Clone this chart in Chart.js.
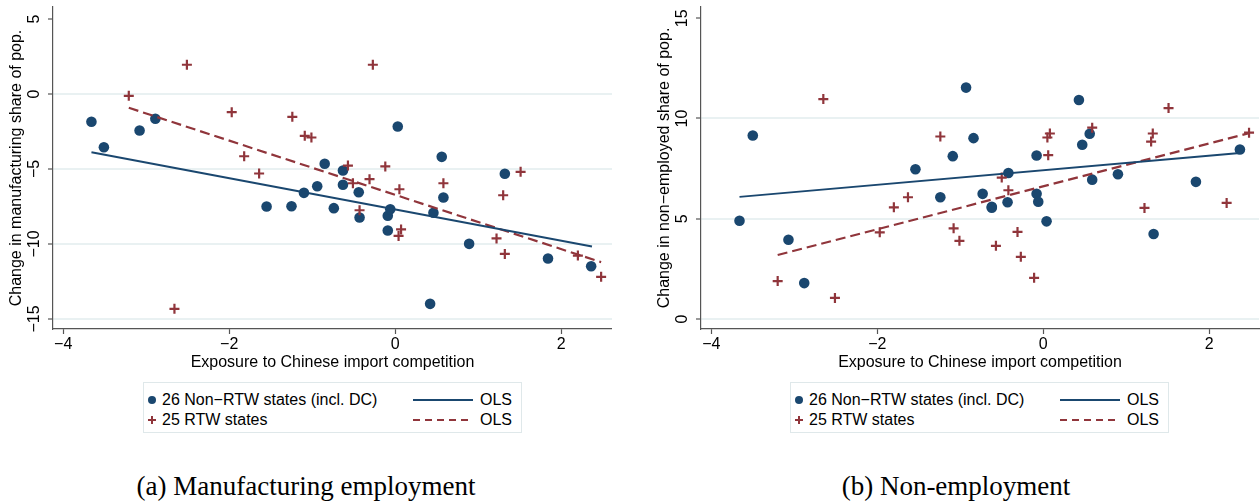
<!DOCTYPE html>
<html>
<head>
<meta charset="utf-8">
<script src="https://cdn.jsdelivr.net/npm/chart.js@4.4.1/dist/chart.umd.min.js"></script>
<style>
  body { margin: 0; width: 1260px; height: 504px; background: #fff; position: relative; overflow: hidden;
         font-family: "Liberation Sans", Arial, sans-serif; }
  canvas.panel { position: absolute; top: 0; }
  .legend { position: absolute; top: 382px; width: 379px; height: 51px; box-sizing: border-box;
            border: 1px solid #dfe8ea; font-size: 16px; color: #000; }
  .legend .item { position: absolute; height: 20px; line-height: 20px; white-space: nowrap; }
  .legend svg { position: absolute; }
  .caption { position: absolute; top: 471px; font-family: "Liberation Serif", serif; font-size: 27px;
             line-height: 30px; white-space: nowrap; transform: translateX(-50%); color: #000; }
</style>
</head>
<body>
<canvas id="mfgChart" class="panel" width="612" height="375" style="left:0px"></canvas>
<canvas id="nonEmpChart" class="panel" width="612" height="375" style="left:648px"></canvas>
<div id="legendA" class="legend" style="left:143px"></div>
<div id="legendB" class="legend" style="left:790px"></div>
<div class="caption" style="left:306px">(a) Manufacturing employment</div>
<div class="caption" style="left:956px">(b) Non-employment</div>
<script>
// tick labels
var xTicks = [-4, -2, 0, 2];
var mfgTicks = [-15, -10, -5, 0, 5];
var nonEmpTicks = [0, 5, 10, 15];

// (a) manufacturing share, non-RTW states
var mfgNonRtwX = [-3.66, -3.51, -3.08, -2.89, -1.55, -1.25, -1.10, -0.94, -0.85, -0.74, -0.63, -0.63, -0.44,
                  -0.43, -0.09, -0.09, -0.06, 0.03, 0.42, 0.46, 0.56, 0.58, 0.89, 1.32, 1.84, 2.36];
var mfgNonRtwY = [-1.85, -3.55, -2.43, -1.65, -7.50, -7.48, -6.59, -6.15, -4.65, -7.61, -5.10, -6.05, -6.55,
                  -8.23, -8.12, -9.10, -7.68, -2.17, -13.99, -7.92, -4.19, -6.90, -9.99, -5.32, -10.97, -11.48];
// (a) manufacturing share, RTW states
var mfgRtwX = [-3.21, -2.66, -2.51, -1.97, -1.82, -1.64, -1.24, -1.09, -1.01, -0.57, -0.51, -0.43, -0.31,
               -0.27, -0.12, 0.04, 0.05, 0.07, 0.58, 1.22, 1.30, 1.32, 1.51, 2.20, 2.48];
var mfgRtwY = [-0.12, -14.32, 1.95, -1.21, -4.15, -5.30, -1.52, -2.79, -2.90, -4.77, -5.95, -7.75, -5.68,
               1.95, -4.83, -9.46, -6.35, -9.03, -5.95, -9.63, -6.75, -10.66, -5.19, -10.77, -12.19];
// (a) OLS end points
var mfgOlsNonRtwX = [-3.66, 2.37];
var mfgOlsNonRtwY = [-3.88, -10.17];
var mfgOlsRtwX = [-3.21, 2.48];
var mfgOlsRtwY = [-0.92, -11.21];

// (b) non-employment share, non-RTW states
var nonEmpNonRtwX = [-3.66, -3.50, -3.07, -2.88, -1.54, -1.24, -1.09, -0.93, -0.84, -0.73, -0.62, -0.62, -0.43,
                     -0.42, -0.08, -0.08, -0.06, 0.04, 0.43, 0.47, 0.56, 0.59, 0.90, 1.33, 1.84, 2.37];
var nonEmpNonRtwY = [4.90, 9.15, 3.95, 1.79, 7.47, 6.07, 8.12, 11.54, 9.02, 6.24, 5.60, 5.55, 5.82,
                     7.28, 8.15, 6.24, 5.85, 4.87, 10.92, 8.69, 9.24, 6.95, 7.22, 4.24, 6.84, 8.45];
// (b) non-employment share, RTW states
var nonEmpRtwX = [-3.20, -2.65, -2.51, -1.97, -1.80, -1.63, -1.24, -1.08, -1.01, -0.57, -0.50, -0.42, -0.31,
                  -0.27, -0.11, 0.05, 0.06, 0.08, 0.59, 1.22, 1.30, 1.32, 1.51, 2.21, 2.48];
var nonEmpRtwY = [1.89, 10.97, 1.05, 4.32, 5.57, 6.07, 9.10, 4.52, 3.90, 3.65, 7.05, 6.42, 4.34,
                  3.10, 2.05, 9.05, 8.17, 9.25, 9.54, 5.54, 8.85, 9.25, 10.52, 5.79, 9.29];
// (b) OLS end points
var nonEmpOlsNonRtwX = [-3.66, 2.37];
var nonEmpOlsNonRtwY = [6.09, 8.28];
var nonEmpOlsRtwX = [-3.20, 2.48];
var nonEmpOlsRtwY = [3.19, 9.27];

var legendLabels = ['26 Non\u2212RTW states (incl. DC)', '25 RTW states', 'OLS', 'OLS'];

var navy = '#1a476f';
var maroon = '#90353b';
var axisColor = '#555555';
var gridColor = '#e9f1f2';
var fontFamily = '"Liberation Sans", Arial, sans-serif';

function pts(xs, ys) {
    return xs.map(function (x, i) { return { x: x, y: ys[i] }; });
}

function minus(v) {
    return String(v).replace('-', '\u2212');
}

// y tick labels are drawn turned by 90 degrees, as in the original
var rotatedYLabels = {
    id: 'rotatedYLabels',
    afterDraw: function (chart) {
        var scale = chart.scales.y;
        var ctx = chart.ctx;
        ctx.save();
        ctx.fillStyle = '#000';
        ctx.font = '16px ' + fontFamily;
        ctx.textAlign = 'center';
        ctx.textBaseline = 'middle';
        scale.ticks.forEach(function (t) {
            var py = scale.getPixelForValue(t.value);
            ctx.save();
            ctx.translate(35, py);
            ctx.rotate(-Math.PI / 2);
            ctx.fillText(minus(t.value), 0, 0);
            ctx.restore();
        });
        ctx.restore();
    }
};

function makeChart(id, cfg) {
    var topTick = cfg.yTicks[cfg.yTicks.length - 1];
    return new Chart(document.getElementById(id), {
        type: 'scatter',
        data: {
            datasets: [
                { label: legendLabels[0], data: pts(cfg.nonX, cfg.nonY), pointStyle: 'circle', pointRadius: 5.3,
                  backgroundColor: navy, borderWidth: 0, order: 2 },
                { label: legendLabels[1], data: pts(cfg.rtwX, cfg.rtwY), pointStyle: 'cross', pointRadius: 5,
                  borderColor: maroon, backgroundColor: maroon, pointBorderWidth: 2.2, order: 1 },
                { label: legendLabels[2], data: pts(cfg.olsNonX, cfg.olsNonY), showLine: true, pointRadius: 0,
                  borderColor: navy, borderWidth: 2, order: 0 },
                { label: legendLabels[3], data: pts(cfg.olsRtwX, cfg.olsRtwY), showLine: true, pointRadius: 0,
                  borderColor: maroon, borderWidth: 2.2, borderDash: [10, 5], order: 0 }
            ]
        },
        options: {
            responsive: false,
            animation: false,
            layout: { autoPadding: false, padding: { top: 7, right: cfg.padRight, left: 0, bottom: 0 } },
            plugins: { legend: { display: false }, tooltip: { enabled: false } },
            scales: {
                x: {
                    type: 'linear',
                    min: cfg.xMin, max: cfg.xMax,
                    afterBuildTicks: function (s) { s.ticks = xTicks.map(function (v) { return { value: v }; }); },
                    afterFit: function (s) { s.height = 46; },
                    grid: { drawOnChartArea: false, drawTicks: true, tickLength: 5, tickColor: axisColor, tickWidth: 1.2 },
                    border: { color: axisColor, width: 1.2 },
                    ticks: { color: '#000', font: { family: fontFamily, size: 16 }, padding: 1, maxRotation: 0,
                             callback: function (v) { return minus(v); } },
                    title: { display: true, text: 'Exposure to Chinese import competition', color: '#000',
                             font: { family: fontFamily, size: 16 }, padding: { top: 0, bottom: 3 } }
                },
                y: {
                    type: 'linear',
                    min: cfg.yMin, max: cfg.yMax,
                    afterBuildTicks: function (s) { s.ticks = cfg.yTicks.map(function (v) { return { value: v }; }); },
                    afterFit: function (s) { s.width = 53; },
                    grid: {
                        color: function (c) { return c.tick && c.tick.value === topTick ? 'rgba(0,0,0,0)' : gridColor; },
                        lineWidth: 2, drawTicks: true, tickLength: 5, tickColor: axisColor, tickWidth: 1.2
                    },
                    border: { color: axisColor, width: 1.2 },
                    ticks: { display: false },
                    title: { display: true, text: cfg.yTitle, color: '#000',
                             font: { family: fontFamily, size: 16 }, padding: { top: 7, bottom: 0 } }
                }
            }
        },
        plugins: [rotatedYLabels]
    });
}

function buildLegend(id) {
    var box = document.getElementById(id);
    var html = '';
    // row 1: dots + solid line
    html += '<svg width="10" height="10" style="left:3px;top:12px"><circle cx="5" cy="5" r="4" fill="' + navy + '"/></svg>';
    html += '<div class="item" style="left:18px;top:7px">' + legendLabels[0] + '</div>';
    html += '<svg width="62" height="4" style="left:268px;top:15px"><line x1="1" y1="2" x2="61" y2="2" stroke="' + navy + '" stroke-width="2"/></svg>';
    html += '<div class="item" style="left:336px;top:7px">' + legendLabels[2] + '</div>';
    // row 2: crosses + dashed line
    html += '<svg width="10" height="10" style="left:3px;top:32px"><path d="M5 1 V9 M1 5 H9" stroke="' + maroon + '" stroke-width="2"/></svg>';
    html += '<div class="item" style="left:18px;top:27px">' + legendLabels[1] + '</div>';
    html += '<svg width="62" height="4" style="left:268px;top:35px"><line x1="1" y1="2" x2="61" y2="2" stroke="' + maroon + '" stroke-width="2" stroke-dasharray="7 5"/></svg>';
    html += '<div class="item" style="left:336px;top:27px">' + legendLabels[3] + '</div>';
    box.innerHTML = html;
}

document.addEventListener('DOMContentLoaded', function () {
    makeChart('mfgChart', {
        nonX: mfgNonRtwX, nonY: mfgNonRtwY, rtwX: mfgRtwX, rtwY: mfgRtwY,
        olsNonX: mfgOlsNonRtwX, olsNonY: mfgOlsNonRtwY, olsRtwX: mfgOlsRtwX, olsRtwY: mfgOlsRtwY,
        xMin: -4.123, xMax: 2.611, yMin: -15.667, yMax: 5.8, yTicks: mfgTicks, padRight: 0,
        yTitle: 'Change in manufacturing share of pop.'
    });
    makeChart('nonEmpChart', {
        nonX: nonEmpNonRtwX, nonY: nonEmpNonRtwY, rtwX: nonEmpRtwX, rtwY: nonEmpRtwY,
        olsNonX: nonEmpOlsNonRtwX, olsNonY: nonEmpOlsNonRtwY, olsRtwX: nonEmpOlsRtwX, olsRtwY: nonEmpOlsRtwY,
        xMin: -4.124, xMax: 2.60, yMin: -0.5, yMax: 15.56, yTicks: nonEmpTicks, padRight: 1,
        yTitle: 'Change in non\u2212employed share of pop.'
    });
    buildLegend('legendA');
    buildLegend('legendB');
});
</script>
</body>
</html>
